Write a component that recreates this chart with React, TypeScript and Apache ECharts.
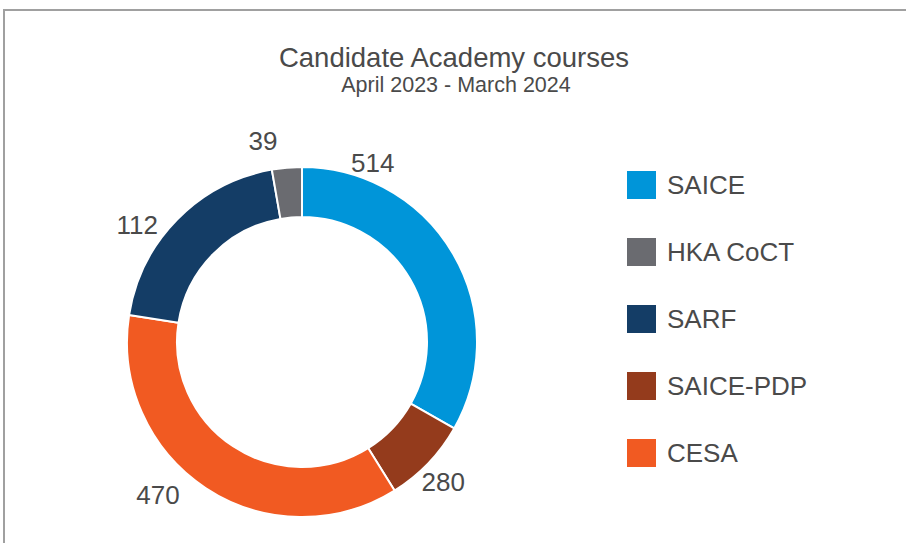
import React, { useEffect, useRef } from "react";
import * as echarts from "echarts";

// Slices in clockwise order from the top
const categories = ["SAICE", "SAICE-PDP", "CESA", "SARF", "HKA CoCT"];
// Slice sizes
const sliceValues = [470, 112, 514, 280, 39];
// Data labels as printed on the chart
const labelValues = ["514", "280", "470", "112", "39"];
// Legend order
const legendOrder = ["SAICE", "HKA CoCT", "SARF", "SAICE-PDP", "CESA"];

const titleText = "Candidate Academy courses";
const subtitleText = "April 2023 - March 2024";

const colors = ["#0095d9", "#943b1c", "#f15a22", "#143d66", "#6a6b70"];
const FONT = "'Liberation Sans', Arial, Helvetica, sans-serif";
const TEXT = "#4a4a4a";
const CX = 302;
const CY = 342;
// label placement (angle from top in degrees, distance from centre)
const labelPolar: [number, number][] = [
  [21.6, 192],
  [134.8, 199],
  [223.3, 210],
  [305.3, 202],
  [349, 205],
];

export default function App() {
  const ref = useRef<HTMLDivElement>(null);
  useEffect(() => {
    if (!ref.current) return;
    const chart = echarts.init(ref.current, null, { renderer: "svg" });
    chart.setOption({
      animation: false,
      backgroundColor: "#ffffff",
      title: [
        {
          text: titleText,
          left: 454,
          top: 43,
          padding: 0,
          textAlign: "center",
          textStyle: { fontSize: 27.5, fontWeight: "normal", color: TEXT, fontFamily: FONT },
        },
        {
          text: subtitleText,
          left: 456,
          top: 74,
          padding: 0,
          textAlign: "center",
          textStyle: { fontSize: 21.5, fontWeight: "normal", color: TEXT, fontFamily: FONT },
        },
      ],
      graphic: [
        {
          type: "rect",
          shape: { x: 4, y: 10, width: 1200, height: 1200 },
          style: { fill: "none", stroke: "#a0a0a0", lineWidth: 2 },
          silent: true,
        },
      ],
      legend: {
        orient: "vertical",
        left: 622,
        top: 166,
        icon: "rect",
        itemWidth: 29,
        itemHeight: 28,
        itemGap: 39,
        data: legendOrder,
        selectedMode: false,
        itemStyle: { borderWidth: 0 },
        textStyle: { fontSize: 26, color: TEXT, fontFamily: FONT, padding: [0, 0, 0, 6] },
      },
      series: [
        {
          type: "pie",
          center: [CX, CY],
          radius: [125, 175],
          startAngle: 90,
          clockwise: true,
          avoidLabelOverlap: false,
          itemStyle: { borderColor: "#ffffff", borderWidth: 2 },
          label: {
            show: true,
            position: "outside",
            fontSize: 26,
            color: TEXT,
            fontFamily: FONT,
            formatter: (p: any) => labelValues[p.dataIndex],
          },
          labelLine: { show: false },
          labelLayout: (p: any) => {
            const [a, r] = labelPolar[p.dataIndex];
            const rad = (a * Math.PI) / 180;
            return {
              x: CX + r * Math.sin(rad),
              y: CY - r * Math.cos(rad),
              align: "center",
              verticalAlign: "middle",
            };
          },
          emphasis: { disabled: true },
          data: categories.map((name, i) => ({
            name,
            value: sliceValues[i],
            itemStyle: { color: colors[i] },
          })),
        },
      ],
    });
    return () => chart.dispose();
  }, []);
  return (
    <div
      ref={ref}
      style={{ position: "absolute", left: 0, top: 0, width: 906, height: 543 }}
    />
  );
}
